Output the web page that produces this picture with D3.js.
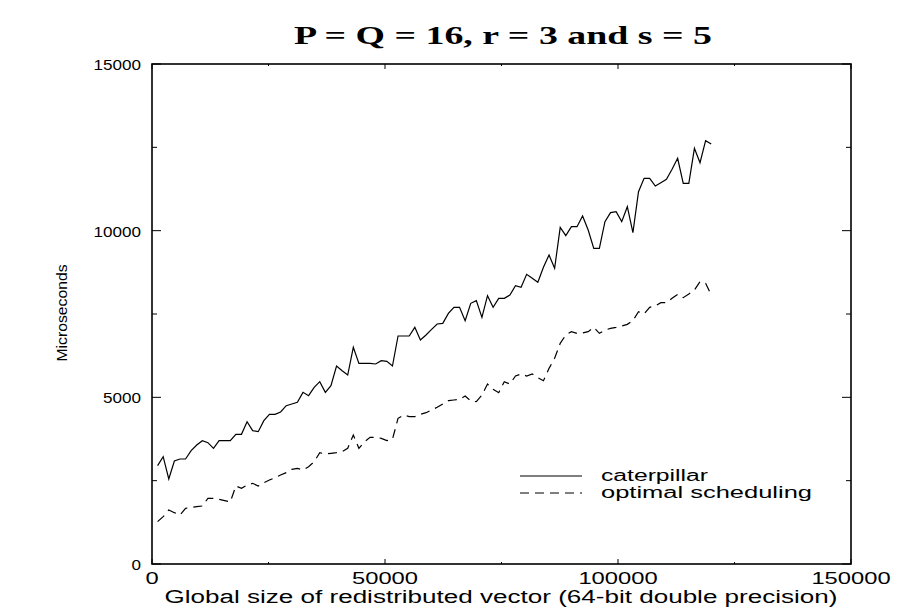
<!DOCTYPE html>
<html>
<head>
<meta charset="utf-8">
<script src="https://cdn.jsdelivr.net/npm/d3@7"></script>
<style>
  html, body { margin: 0; padding: 0; background: #fff; }
  svg { display: block; }
</style>
</head>
<body>
<svg id="chart" width="899" height="608"></svg>
<script>
// vector sizes (x), one sample every 1200 elements
const sizes = [
  1200, 2400, 3600, 4800, 6000, 7200, 8400, 9600, 10800, 12000,
  13200, 14400, 15600, 16800, 18000, 19200, 20400, 21600, 22800, 24000,
  25200, 26400, 27600, 28800, 30000, 31200, 32400, 33600, 34800, 36000,
  37200, 38400, 39600, 40800, 42000, 43200, 44400, 45600, 46800, 48000,
  49200, 50400, 51600, 52800, 54000, 55200, 56400, 57600, 58800, 60000,
  61200, 62400, 63600, 64800, 66000, 67200, 68400, 69600, 70800, 72000,
  73200, 74400, 75600, 76800, 78000, 79200, 80400, 81600, 82800, 84000,
  85200, 86400, 87600, 88800, 90000, 91200, 92400, 93600, 94800, 96000,
  97200, 98400, 99600, 100800, 102000, 103200, 104400, 105600, 106800, 108000,
  109200, 110400, 111600, 112800, 114000, 115200, 116400, 117600, 118800, 120000
];

const caterpillar = [
  2950, 3220, 2550, 3090, 3150, 3150, 3400, 3570, 3700, 3640,
  3470, 3700, 3700, 3700, 3890, 3890, 4270, 4000, 3970, 4300,
  4490, 4490, 4560, 4750, 4800, 4850, 5150, 5050, 5300, 5470,
  5150, 5350, 5940, 5800, 5670, 6500, 6020, 6020, 6020, 6000,
  6100, 6080, 5940, 6840, 6840, 6840, 7100, 6720, 6870, 7040,
  7200, 7220, 7520, 7700, 7700, 7300, 7820, 7900, 7400, 8050,
  7700, 7970, 7970, 8070, 8350, 8300, 8690, 8570, 8450, 8900,
  9270, 8870, 10100, 9850, 10120, 10120, 10440, 10020, 9470, 9470,
  10270, 10540, 10570, 10270, 10720, 9940, 11170, 11570, 11570, 11340,
  11440, 11540, 11840, 12170, 11420, 11420, 12470, 12040, 12700, 12600
];

const optimal = [
  1270, 1420, 1620, 1540, 1470, 1670, 1700, 1720, 1740, 1970,
  1970, 1940, 1900, 1860, 2340, 2270, 2370, 2420, 2340, 2440,
  2520, 2590, 2670, 2740, 2840, 2870, 2820, 2920, 3070, 3340,
  3300, 3320, 3340, 3370, 3470, 3870, 3470, 3670, 3800, 3800,
  3770, 3700, 3740, 4370, 4470, 4420, 4420, 4490, 4540, 4620,
  4700, 4800, 4900, 4920, 4940, 5040, 4890, 4870, 5070, 5400,
  5240, 5140, 5470, 5400, 5640, 5700, 5640, 5700, 5590, 5500,
  5870, 6170, 6620, 6870, 6970, 6920, 6930, 6970, 7100, 6920,
  7020, 7070, 7100, 7140, 7190, 7300, 7570, 7500, 7700, 7740,
  7840, 7840, 7970, 8090, 7990, 8100, 8220, 8470, 8420, 8070
];

const seriesNames = ["caterpillar", "optimal scheduling"];
const xTickValues = [0, 50000, 100000, 150000];
const xMinorTicks = [25000, 75000, 125000];
const yTickValues = [0, 5000, 10000, 15000];
const yMinorTicks = [2500, 7500, 12500];

const svg = d3.select("#chart");
const plotLeft = 152, plotRight = 851, plotTop = 64, plotBottom = 564;

const x = d3.scaleLinear().domain([0, 150000]).range([plotLeft, plotRight]);
const y = d3.scaleLinear().domain([0, 15000]).range([plotBottom, plotTop]);

const sans = "'Liberation Sans', Arial, Helvetica, sans-serif";

// title
svg.append("text")
  .attr("x", 503).attr("y", 44)
  .attr("text-anchor", "middle")
  .attr("font-family", "'Liberation Serif', 'Times New Roman', serif")
  .attr("font-weight", "bold")
  .attr("font-size", 25)
  .attr("textLength", 418)
  .attr("lengthAdjust", "spacingAndGlyphs")
  .text("P = Q = 16, r = 3 and s = 5");

// ticks (inward, mirrored on all sides)
const tickG = svg.append("g").attr("stroke", "#000").attr("stroke-width", 1);
function yTick(v, len) {
  tickG.append("line").attr("x1", plotLeft).attr("x2", plotLeft + len).attr("y1", y(v)).attr("y2", y(v));
  tickG.append("line").attr("x1", plotRight).attr("x2", plotRight - len).attr("y1", y(v)).attr("y2", y(v));
}
function xTick(v, len) {
  tickG.append("line").attr("x1", x(v)).attr("x2", x(v)).attr("y1", plotBottom).attr("y2", plotBottom - len);
  tickG.append("line").attr("x1", x(v)).attr("x2", x(v)).attr("y1", plotTop).attr("y2", plotTop + len);
}
yTickValues.forEach(v => yTick(v, 9));
yMinorTicks.forEach(v => yTick(v, 5));
xTickValues.forEach(v => xTick(v, 5));
xMinorTicks.forEach(v => xTick(v, 2));

// frame
svg.append("rect")
  .attr("x", plotLeft).attr("y", plotTop)
  .attr("width", plotRight - plotLeft).attr("height", plotBottom - plotTop)
  .attr("fill", "none").attr("stroke", "#000").attr("stroke-width", 1.6);

// tick labels
svg.append("g").selectAll("text").data(yTickValues).join("text")
  .attr("x", 141).attr("y", d => y(d) + 6)
  .attr("text-anchor", "end")
  .attr("font-family", sans).attr("font-size", 15)
  .attr("textLength", d => String(d).length * 9.5)
  .attr("lengthAdjust", "spacingAndGlyphs")
  .text(d => d);

svg.append("g").selectAll("text").data(xTickValues).join("text")
  .attr("x", d => x(d)).attr("y", 584)
  .attr("text-anchor", "middle")
  .attr("font-family", sans).attr("font-size", 17)
  .attr("textLength", d => String(d).length * 13.2)
  .attr("lengthAdjust", "spacingAndGlyphs")
  .text(d => d);

// axis titles
svg.append("text")
  .attr("transform", "translate(67,313) rotate(-90)")
  .attr("text-anchor", "middle")
  .attr("font-family", sans).attr("font-size", 15)
  .attr("textLength", 97)
  .attr("lengthAdjust", "spacingAndGlyphs")
  .text("Microseconds");

svg.append("text")
  .attr("x", 501).attr("y", 603)
  .attr("text-anchor", "middle")
  .attr("font-family", sans).attr("font-size", 18)
  .attr("textLength", 673)
  .attr("lengthAdjust", "spacingAndGlyphs")
  .text("Global size of redistributed vector (64-bit double precision)");

// data lines
const line = d3.line().x(d => x(d[0])).y(d => y(d[1]));
const styles = [null, "9,6"];
[caterpillar, optimal].forEach((vals, i) => {
  svg.append("path")
    .datum(sizes.map((s, j) => [s, vals[j]]))
    .attr("d", line)
    .attr("fill", "none")
    .attr("stroke", "#000")
    .attr("stroke-width", 1.2)
    .attr("stroke-dasharray", styles[i]);
});

// legend
const legend = svg.append("g");
seriesNames.forEach((name, i) => {
  const ly = 476 + i * 17;
  legend.append("line")
    .attr("x1", 520).attr("x2", 582).attr("y1", ly).attr("y2", ly)
    .attr("stroke", "#000").attr("stroke-width", 1.2)
    .attr("stroke-dasharray", styles[i]);
  legend.append("text")
    .attr("x", 601).attr("y", ly + 5)
    .attr("font-family", sans).attr("font-size", 16)
    .attr("textLength", i === 0 ? 107 : 211)
    .attr("lengthAdjust", "spacingAndGlyphs")
    .text(name);
});
</script>
</body>
</html>
